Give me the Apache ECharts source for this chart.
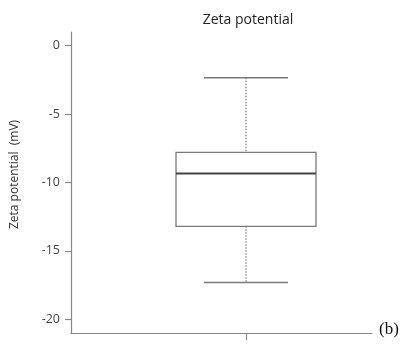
<!DOCTYPE html>
<html><head><meta charset="utf-8">
<script src="https://cdn.jsdelivr.net/npm/echarts@6/dist/echarts.min.js"></script>
<style>html,body{margin:0;padding:0;background:#fff}#c{width:417px;height:347px}</style>
</head><body><div id="c"></div>
<script>
// Box-plot statistics (mV): [lower whisker, Q1, median, Q3, upper whisker]
const categories = ['Zeta potential'];
const boxStats = [[-17.3, -13.2, -9.35, -7.8, -2.35]];
const yTicks = [0, -5, -10, -15, -20];
const titleText = 'Zeta potential';
const yAxisName = 'Zeta potential  (mV)';
const panelLabel = '(b)';

const chart = echarts.init(document.getElementById('c'), null, {renderer: 'canvas'});
const font = '"Open Sans", "Noto Sans", sans-serif';
chart.setOption({
  animation: false,
  title: {text: titleText, left: 243, top: 8, textAlign: 'center',
    textStyle: {fontSize: 14, fontWeight: 'normal', color: '#222', fontFamily: font}},
  grid: {left: 71, right: 45, top: 32, bottom: 14},
  xAxis: {type: 'value', min: 0, max: 1.72,
    axisLine: {show: true, onZero: false, lineStyle: {color: '#888', width: 1.2}},
    axisTick: {show: true, customValues: [1], length: 7, lineStyle: {color: '#888', width: 1.2}},
    axisLabel: {show: false}, splitLine: {show: false}},
  yAxis: {type: 'value', min: -21, max: 1,
    name: yAxisName, nameLocation: 'middle', nameRotate: 90, nameGap: 50,
    nameTextStyle: {fontSize: 12, color: '#333', fontFamily: font, padding: [0, 0, 0, 16]},
    axisLine: {show: true, onZero: false, lineStyle: {color: '#888', width: 1.2}},
    axisTick: {show: true, customValues: yTicks, length: 6, lineStyle: {color: '#888', width: 1.2}},
    axisLabel: {customValues: yTicks, fontSize: 12.5, color: '#444', margin: 11, fontFamily: font},
    splitLine: {show: false}},
  series: [{
    type: 'custom',
    data: boxStats.map((s, i) => [1 + i].concat(s)),
    renderItem: function (params, api) {
      const x = api.value(0);
      const lo = api.coord([x, api.value(1)]);
      const q1 = api.coord([x, api.value(2)]);
      const med = api.coord([x, api.value(3)]);
      const q3 = api.coord([x, api.value(4)]);
      const hi = api.coord([x, api.value(5)]);
      const bw = 140, cw = 84;
      const cx = lo[0];
      const grey = '#7a7a7a';
      return {type: 'group', children: [
        {type: 'line', shape: {x1: cx, y1: hi[1], x2: cx, y2: q3[1]}, style: {stroke: grey, lineWidth: 1.2, lineDash: [1.5, 1.5]}},
        {type: 'line', shape: {x1: cx, y1: q1[1], x2: cx, y2: lo[1]}, style: {stroke: grey, lineWidth: 1.2, lineDash: [1.5, 1.5]}},
        {type: 'line', shape: {x1: cx - cw / 2, y1: hi[1], x2: cx + cw / 2, y2: hi[1]}, style: {stroke: grey, lineWidth: 1.5}},
        {type: 'line', shape: {x1: cx - cw / 2, y1: lo[1], x2: cx + cw / 2, y2: lo[1]}, style: {stroke: grey, lineWidth: 1.5}},
        {type: 'rect', shape: {x: cx - bw / 2, y: q3[1], width: bw, height: q1[1] - q3[1]}, style: {fill: '#fff', stroke: grey, lineWidth: 1.3}},
        {type: 'line', shape: {x1: cx - bw / 2, y1: med[1], x2: cx + bw / 2, y2: med[1]}, style: {stroke: '#444', lineWidth: 2}}
      ]};
    }
  }],
  graphic: [{type: 'text', left: 379, top: 321,
    style: {text: panelLabel, fontSize: 17, fill: '#111', fontFamily: '"Liberation Serif", "DejaVu Serif", serif'}}]
});
</script></body></html>
